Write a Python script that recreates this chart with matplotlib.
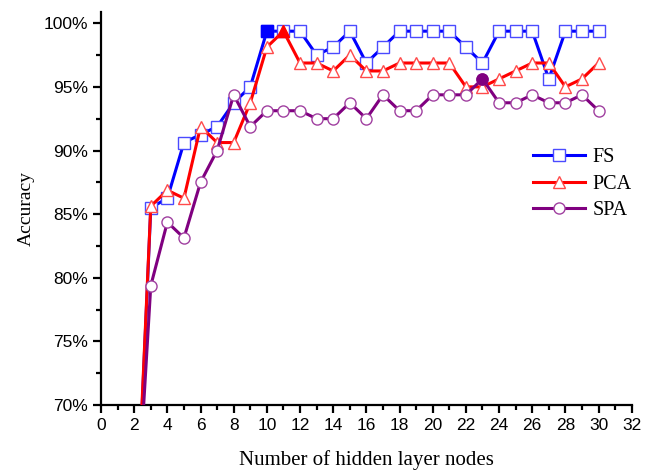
import numpy as np
import matplotlib
matplotlib.use('Agg')
import matplotlib.pyplot as plt
from matplotlib.ticker import MultipleLocator, FuncFormatter

# hidden layer nodes
nodes = list(range(2, 31))

# accuracy (%) for each method
fs = [55.625, 85.5, 86.25, 90.625, 91.25, 91.875, 93.75, 95.0, 99.375, 99.375,
      99.375, 97.5, 98.125, 99.375, 96.875, 98.125, 99.375, 99.375, 99.375, 99.375,
      98.125, 96.875, 99.375, 99.375, 99.375, 95.625, 99.375, 99.375, 99.375]
pca = [56.25, 85.625, 86.875, 86.25, 91.875, 90.625, 90.625, 93.75, 98.125, 99.375,
       96.875, 96.875, 96.25, 97.5, 96.25, 96.25, 96.875, 96.875, 96.875, 96.875,
       95.0, 95.0, 95.625, 96.25, 96.875, 96.875, 95.0, 95.625, 96.875]
spa = [57.5, 79.375, 84.375, 83.125, 87.5, 90.0, 94.375, 91.875, 93.125, 93.125,
       93.125, 92.5, 92.5, 93.75, 92.5, 94.375, 93.125, 93.125, 94.375, 94.375,
       94.375, 95.625, 93.75, 93.75, 94.375, 93.75, 93.75, 94.375, 93.125]

# highlighted best point of each method
best_fs = 10
best_pca = 11
best_spa = 23

fig = plt.figure(figsize=(6.56, 4.71), dpi=100)
ax = fig.add_axes([0.154, 0.140, 0.809, 0.835])

series = [
    (fs, 'FS', '#0000FF', '#4a4aff', 's', best_fs),
    (pca, 'PCA', '#FF0000', '#ff4a4a', '^', best_pca),
    (spa, 'SPA', '#800080', '#a040a0', 'o', best_spa),
]
for vals, name, c, ec, m, best in series:
    ax.plot(nodes, vals, color=c, linewidth=2.2, marker=m, markersize=8,
            markerfacecolor='white', markeredgecolor=ec, markeredgewidth=1.0,
            label=name, zorder=3)
    i = nodes.index(best)
    ax.plot(nodes[i], vals[i], marker=m, markersize=8, color=c,
            markeredgecolor=c, linestyle='none', zorder=4)

ax.set_xlim(0, 32)
ax.set_ylim(70, 100.9)
ax.xaxis.set_major_locator(MultipleLocator(2))
ax.xaxis.set_minor_locator(MultipleLocator(1))
ax.yaxis.set_major_locator(MultipleLocator(5))
ax.yaxis.set_minor_locator(MultipleLocator(2.5))
ax.yaxis.set_major_formatter(FuncFormatter(lambda v, p: '%d%%' % round(v)))

for s in ['top', 'right']:
    ax.spines[s].set_visible(False)
for s in ['left', 'bottom']:
    ax.spines[s].set_linewidth(1.6)
ax.tick_params(which='major', direction='out', length=6, width=1.6,
               labelsize=12.5, labelfontfamily='Liberation Sans', colors='black')
ax.tick_params(which='minor', direction='out', length=3.5, width=1.6)

ax.set_xlabel('Number of hidden layer nodes', fontfamily='Liberation Serif',
              fontsize=15, labelpad=12)
ax.set_ylabel('Accuracy', fontfamily='Liberation Serif', fontsize=14, labelpad=6)

leg = ax.legend(loc='upper left', bbox_to_anchor=(0.78, 0.70), frameon=False,
                handlelength=2.6, prop={'family': 'Liberation Serif', 'size': 14.5},
                labelspacing=0.38, handletextpad=0.35)

fig.savefig('out.png', dpi=100)
